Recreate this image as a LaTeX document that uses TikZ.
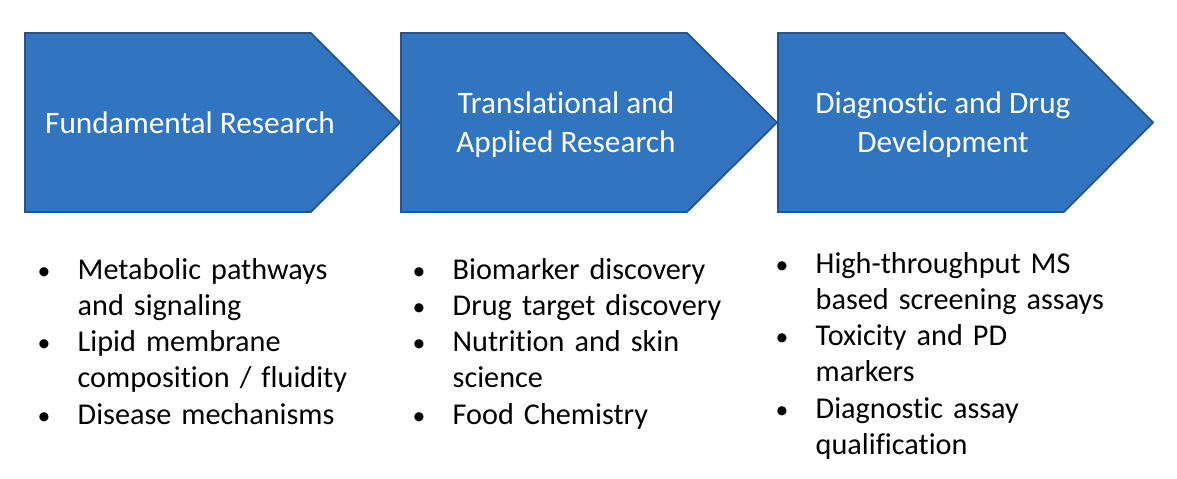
\documentclass[tikz,border=0pt]{standalone}
\usepackage{fontspec}
\setmainfont{Carlito}[Ligatures=NoCommon]
\usepackage{enumitem}
\usepackage{xcolor}
\definecolor{chevronblue}{RGB}{49,116,192}
\definecolor{chevronedge}{RGB}{38,84,140}
\setlist[itemize]{leftmargin=0.40cm, labelwidth=0.40cm, labelsep=0pt, align=left,
  topsep=0pt, itemsep=0pt, parsep=0pt, partopsep=0pt, label=\scalebox{0.85}{\textbullet}}

\begin{document}
\begin{tikzpicture}
% Stage styles
\tikzset{
    chevron/.style={fill=chevronblue, draw=chevronedge, line width=0.5pt, line join=miter},
    stagetext/.style={text=white, align=center, font=\fontsize{8.9pt}{11pt}\selectfont},
    itemlist/.style={anchor=north west, inner sep=0pt, text width=3.5cm, align=left,
        font=\fontsize{8.6pt}{10.33pt}\selectfont}
}
\useasboundingbox (0,0) rectangle (11.77,4.79);
% Stage arrows
\draw[chevron] (0.25,2.67) -- (0.25,4.46) -- (3.11,4.46) -- (4.00,3.565) -- (3.11,2.67) -- cycle;
\draw[chevron] (4.01,2.67) -- (4.01,4.46) -- (6.87,4.46) -- (7.77,3.565) -- (6.87,2.67) -- cycle;
\draw[chevron] (7.78,2.67) -- (7.78,4.46) -- (10.64,4.46) -- (11.53,3.565) -- (10.64,2.67) -- cycle;
% Stage titles
\node[stagetext] (fund) at (1.90,3.565) {Fundamental Research};
\node[stagetext] (trans) at (5.66,3.545) {Translational and\\Applied Research};
\node[stagetext] (diag) at (9.43,3.545) {Diagnostic and Drug\\Development};
% Bullet lists
\node[itemlist] (fundlist) at (0.37,2.37) {%
\begin{itemize}
\item Metabolic pathways\\ and signaling
\item Lipid membrane\\ composition / fluidity
\item Disease mechanisms
\end{itemize}};
\node[itemlist] (translist) at (4.12,2.37) {%
\begin{itemize}
\item Biomarker discovery
\item Drug target discovery
\item Nutrition and skin\\ science
\item Food Chemistry
\end{itemize}};
\node[itemlist] (diaglist) at (7.75,2.43) {%
\begin{itemize}
\item High-throughput MS\\ based screening assays
\item Toxicity and PD\\ markers
\item Diagnostic assay\\ qualification
\end{itemize}};
\end{tikzpicture}
\end{document}
